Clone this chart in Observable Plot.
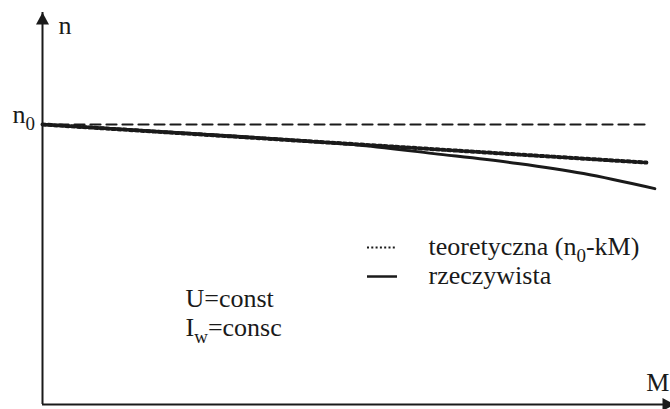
<!DOCTYPE html>
<html><head><meta charset="utf-8">
<script src="https://cdn.jsdelivr.net/npm/d3@7"></script>
<script src="https://cdn.jsdelivr.net/npm/@observablehq/plot@0.6"></script>
<style>
html,body{margin:0;padding:0;background:#fff;}
#chart svg{display:block;}
#chart svg text, #chart svg tspan{font-family:"Liberation Serif","Tinos","Times New Roman","DejaVu Serif",serif !important;}
</style></head><body><div id="chart"></div>
<script>
// ---- data (M = torque, n = speed, n0 = 1) ----
const torqueIdeal = [0, 10];
const speedIdeal = [1, 1];
const torqueTheory = [0, 10];
const speedTheory = [1, 0.864];
const torqueReal = [0, 2.62, 5.10, 6.48, 7.87, 8.96, 10.14];
const speedReal = [1, 0.966, 0.929, 0.896, 0.861, 0.825, 0.771];
const legendLabels = ["teoretyczna (n_0-kM)", "rzeczywista"];
const conditionLabels = ["U=const", "I_w=consc"];
const axisLabels = ["n", "M", "n_0"];

const xMax = 10.4, yMax = 1.4;

const ideal = torqueIdeal.map((m, i) => ({m, n: speedIdeal[i]}));
const theory = torqueTheory.map((m, i) => ({m, n: speedTheory[i]}));
const real = torqueReal.map((m, i) => ({m, n: speedReal[i]}));

// annotation anchors (data coordinates)
const axisText = [
  {t: axisLabels[0], m: 0.265, n: 1.325},
  {t: axisLabels[1], m: 10.0, n: 0.05},
  {t: axisLabels[2], m: -0.497, n: 1.0036}
];
const legendText = [
  {t: legendLabels[0], m: 6.392, n: 0.5357},
  {t: legendLabels[1], m: 6.392, n: 0.4321}
];
const condText = [
  {t: conditionLabels[0], m: 2.368, n: 0.348},
  {t: conditionLabels[1], m: 2.368, n: 0.2464}
];

const arrowUp = {draw(ctx){ ctx.moveTo(0,0); ctx.lineTo(6.5,12); ctx.lineTo(-6.5,12); ctx.closePath(); }};
const arrowRight = {draw(ctx){ ctx.moveTo(0,0); ctx.lineTo(-12,-6.5); ctx.lineTo(-12,6.5); ctx.closePath(); }};

const ink = "#1a1a1a";
const font = "Liberation Serif, Tinos, Times New Roman, DejaVu Serif, serif";
const textOpts = {x: "m", y: "n", text: "t", textAnchor: "start", lineAnchor: "bottom", fontSize: 26, fontFamily: font, fill: ink};

const chart = Plot.plot({
  width: 670,
  height: 409,
  marginLeft: 42,
  marginRight: 0,
  marginTop: 12,
  marginBottom: 5,
  x: {domain: [0, xMax], axis: null},
  y: {domain: [0, yMax], axis: null},
  style: {background: "#fff"},
  marks: [
    // axes
    Plot.ruleX([0], {y1: 0, y2: yMax, stroke: ink, strokeWidth: 2}),
    Plot.ruleY([0], {x1: 0, x2: xMax, stroke: ink, strokeWidth: 2}),
    Plot.dot([{m: 0, n: yMax}], {x: "m", y: "n", symbol: arrowUp, fill: ink, stroke: "none", r: 5}),
    Plot.dot([{m: xMax, n: 0}], {x: "m", y: "n", symbol: arrowRight, fill: ink, stroke: "none", r: 5, dx: 4}),
    // curves
    Plot.line(ideal, {x: "m", y: "n", stroke: ink, strokeWidth: 2.2, strokeDasharray: "10,6"}),
    Plot.line(theory, {x: "m", y: "n", stroke: ink, strokeWidth: 4, strokeDasharray: "3,2.8"}),
    Plot.line(real, {x: "m", y: "n", stroke: ink, strokeWidth: 3, curve: "catmull-rom"}),
    // legend samples
    Plot.ruleY([{n: 0.5607}], {y: "n", x1: 5.382, x2: 5.879, stroke: ink, strokeWidth: 2, strokeDasharray: "2,2.3"}),
    Plot.ruleY([{n: 0.4571}], {y: "n", x1: 5.382, x2: 5.879, stroke: ink, strokeWidth: 2.5}),
    // texts
    Plot.text(axisText, textOpts),
    Plot.text(legendText, textOpts),
    Plot.text(condText, textOpts)
  ]
});

// turn "_x" into real subscripts
const NS = "http://www.w3.org/2000/svg";
d3.select(chart).selectAll("text").each(function(){
  const s = this.textContent;
  if (!s.includes("_")) return;
  const parts = s.split(/_(\w)/);
  while (this.firstChild) this.removeChild(this.firstChild);
  const shift = 7;
  parts.forEach((p, i) => {
    const ts = document.createElementNS(NS, "tspan");
    if (i % 2 === 1) {
      ts.setAttribute("font-size", "19");
      ts.setAttribute("dy", shift);
    } else if (i > 0) {
      ts.setAttribute("dy", -shift);
    }
    ts.textContent = p;
    this.appendChild(ts);
  });
});

document.getElementById("chart").appendChild(chart);
</script></body></html>
